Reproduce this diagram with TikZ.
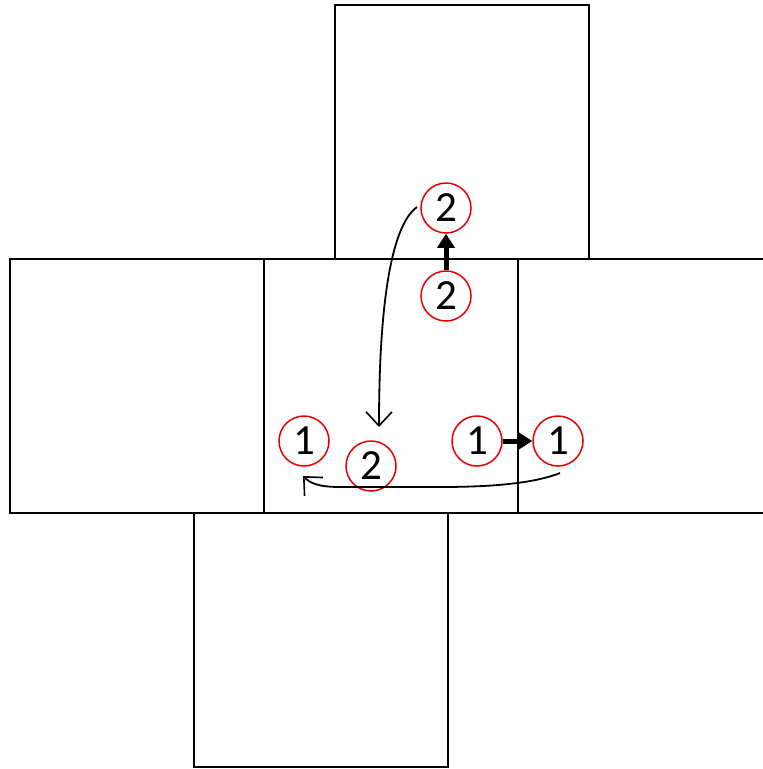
\documentclass[tikz,border=0pt]{standalone}
\usepackage{fontspec}
\setmainfont{Carlito}
\usetikzlibrary{arrows.meta}
\begin{document}
\begin{tikzpicture}[x=1pt,y=-1pt,
  face/.style={draw=black,line width=1.5pt},
  num/.style={circle,draw=red!90!black,line width=1.5pt,minimum size=50pt,inner sep=0pt,font=\fontsize{43}{46}\selectfont},
  thick arrow/.style={line width=5pt,-{Triangle[length=14pt,width=17pt]}},
  move/.style={line width=1.8pt,-{Straight Barb[length=14pt,width=26pt,line width=1.6pt]}}
]
\useasboundingbox (0,0) rectangle (763,769);
\begin{scope}
\clip (0,0) rectangle (763,769);
\draw[face] (335,5) rectangle (589,259);
\draw[face] (10,259) rectangle (264,513);
\draw[face] (264,259) rectangle (518,513);
\draw[face] (518,259) rectangle (772,513);
\draw[face] (194,513) rectangle (448,767);
\end{scope}
\node[num] (t2) at (446,208) {2};
\node[num] (b2) at (446,296) {2};
\node[num] (l1) at (304,441) {1};
\node[num] (m2) at (371,466) {2};
\node[num] (c1) at (477,441) {1};
\node[num] (r1) at (558,441) {1};
\coordinate (s1) at (417,207);
\coordinate (e1) at (379,427);
\coordinate (s2) at (560,473);
\coordinate (e2) at (303,476);
\draw[thick arrow] (b2.north) -- (t2.south);
\draw[thick arrow] (c1.east) -- (r1.west);
\draw[move] (s1) .. controls (392,225) and (379,300) .. (e1);
\draw[move] (s2) .. controls (530,485) and (480,487) .. (440,487) -- (340,487) .. controls (318,487) and (310,483) .. (e2);
\end{tikzpicture}
\end{document}
